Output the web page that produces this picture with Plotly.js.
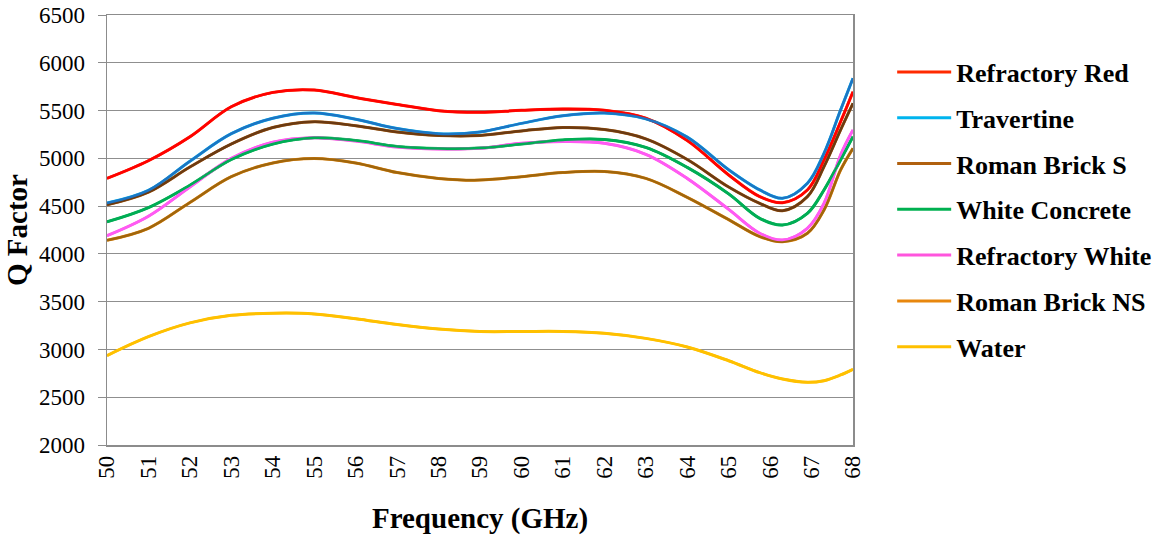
<!DOCTYPE html>
<html>
<head>
<meta charset="utf-8">
<script src="https://cdn.plot.ly/plotly-3.0.1.min.js"></script>
<style>html,body{margin:0;padding:0;background:#fff;}#chart{width:1167px;height:540px;}</style>
</head>
<body>
<div id="chart"></div>
<script>
// Frequency (GHz) at which the trend curves were read
const freq = [50,51,52,53,54,55,56,57,58,59,60,61,62,63,64,65,65.75,66.3,66.9,67.3,67.7,68];

// Q factor trend curves
const refractoryRed   = [4790,4975,5225,5540,5690,5715,5636,5564,5499,5481,5503,5517,5503,5420,5186,4826,4599,4536,4669,4983,5383,5697];
const travertine      = [4531,4664,4970,5258,5420,5474,5409,5312,5258,5276,5366,5445,5474,5413,5222,4880,4669,4582,4739,5053,5506,5838];
const romanBrickS     = [4513,4646,4909,5150,5323,5384,5341,5276,5240,5240,5287,5323,5301,5204,4988,4700,4529,4452,4599,4913,5297,5576];
const whiteConcrete   = [4335,4484,4718,4988,5150,5215,5186,5125,5103,5107,5150,5193,5197,5114,4905,4628,4372,4302,4425,4669,4983,5227];
const refractoryWhite = [4190,4394,4700,4999,5168,5215,5180,5118,5098,5105,5157,5175,5157,5042,4790,4466,4216,4145,4268,4529,5035,5297];
const romanBrickNS    = [4142,4268,4538,4808,4952,4999,4952,4851,4790,4772,4808,4851,4862,4790,4592,4358,4181,4128,4216,4459,4878,5105];
const water           = [2936,3134,3278,3357,3379,3372,3321,3260,3213,3188,3188,3188,3170,3116,3026,2882,2757,2690,2656,2673,2733,2792];

const seriesNames  = ['Refractory Red','Travertine','Roman Brick S','White Concrete','Refractory White','Roman Brick NS','Water'];
const seriesValues = [refractoryRed, travertine, romanBrickS, whiteConcrete, refractoryWhite, romanBrickNS, water];
const legendColors = ['#ff2a00','#00b4ee','#b0600f','#00b050','#ff55dd','#e8870e','#ffc000'];
const trendColors  = ['#ff0000','#1c75c4','#6b3a12','#00ad55','#ff5af5','#a0660c','#ffc000'];

const traces = [];
// data series (legend entries)
seriesNames.forEach((name, i) => {
  traces.push({
    x: freq, y: seriesValues[i], name: name, type: 'scatter', mode: 'lines',
    legendgroup: 'g' + i,
    line: {color: legendColors[i], width: 3, shape: 'spline', smoothing: 1},
    hoverinfo: 'skip'
  });
});
// trend lines drawn on top
const trendOrder = [5,4,3,2,0,1,6];
trendOrder.forEach(i => {
  traces.push({
    x: freq, y: seriesValues[i], name: seriesNames[i] + ' trend', type: 'scatter', mode: 'lines',
    showlegend: false, legendgroup: 'g' + i,
    line: {color: trendColors[i], width: 2.5, shape: 'spline', smoothing: 1}
  });
});

const serif = '"Liberation Serif", "Times New Roman", serif';
const layout = {
  width: 1167, height: 540,
  margin: {l: 107, r: 314, t: 15, b: 95},
  paper_bgcolor: '#ffffff', plot_bgcolor: '#ffffff',
  font: {family: serif, size: 23, color: '#000000'},
  showlegend: true,
  legend: {
    xref: 'container', yref: 'container',
    x: 0.7645, xanchor: 'left', y: 0.9102, yanchor: 'top',
    maxheight: 450,
    traceorder: 'grouped', tracegroupgap: 9,
    itemwidth: 54,
    font: {family: serif, size: 26, color: '#000000', weight: 'bold'},
    bgcolor: 'rgba(0,0,0,0)'
  },
  xaxis: {
    range: [50, 68], dtick: 1, tick0: 50, tickangle: -90,
    showgrid: false, zeroline: false,
    showline: true, linecolor: '#8c8c8c', linewidth: 1.5, mirror: true,
    ticks: '', tickfont: {family: serif, size: 23, color: '#000000'},
    title: {text: '<b>Frequency (GHz)</b>', font: {family: serif, size: 29, color: '#000000'}, standoff: 30}
  },
  yaxis: {
    range: [2000, 6500], dtick: 500, tick0: 2000,
    showgrid: true, gridcolor: '#8f8f8f', gridwidth: 1, zeroline: false,
    showline: true, linecolor: '#8c8c8c', linewidth: 1.5, mirror: true,
    ticks: 'outside', ticklen: 8, tickcolor: '#8c8c8c', ticklabelstandoff: 8,
    tickfont: {family: serif, size: 23, color: '#000000'},
    title: {text: '<b>Q Factor</b>', font: {family: serif, size: 29, color: '#000000'}, standoff: 3}
  }
};

Plotly.newPlot('chart', traces, layout, {displayModeBar: false, staticPlot: true});
</script>
</body>
</html>
